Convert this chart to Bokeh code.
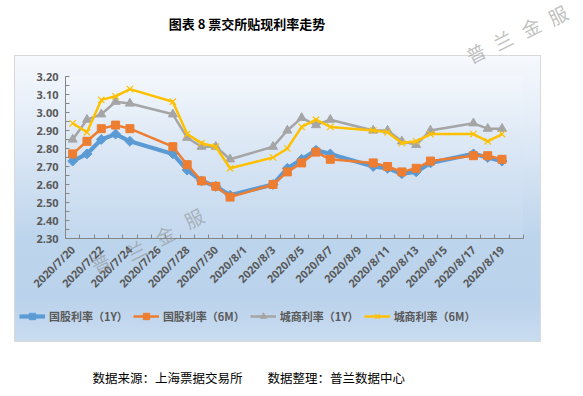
import pandas as pd
from math import pi
from bokeh.plotting import figure
from bokeh.models import (Range1d, FixedTicker, Label, Legend, LegendItem,
                          PrintfTickFormatter)
from bokeh.embed import file_html
from bokeh.resources import INLINE

# ---------------- data ----------------
dates = ["2020-07-20", "2020-07-21", "2020-07-22", "2020-07-23", "2020-07-24",
         "2020-07-27", "2020-07-28", "2020-07-29", "2020-07-30", "2020-07-31",
         "2020-08-03", "2020-08-04", "2020-08-05", "2020-08-06", "2020-08-07",
         "2020-08-10", "2020-08-11", "2020-08-12", "2020-08-13", "2020-08-14",
         "2020-08-17", "2020-08-18", "2020-08-19"]
gg_1y = [2.73, 2.77, 2.85, 2.88, 2.84, 2.77, 2.68, 2.62, 2.59, 2.54, 2.60, 2.69,
         2.74, 2.79, 2.77, 2.70, 2.69, 2.66, 2.67, 2.72, 2.77, 2.75, 2.73]
gg_6m = [2.77, 2.84, 2.91, 2.93, 2.91, 2.81, 2.71, 2.62, 2.59, 2.53, 2.60, 2.67,
         2.72, 2.78, 2.74, 2.72, 2.70, 2.67, 2.69, 2.73, 2.76, 2.76, 2.74]
cs_1y = [2.85, 2.96, 2.99, 3.06, 3.05, 2.99, 2.86, 2.81, 2.81, 2.74, 2.81, 2.90,
         2.97, 2.93, 2.96, 2.90, 2.90, 2.84, 2.82, 2.90, 2.94, 2.91, 2.91]
cs_6m = [2.94, 2.89, 3.07, 3.09, 3.13, 3.06, 2.88, 2.83, 2.81, 2.69, 2.75, 2.80,
         2.92, 2.96, 2.92, 2.90, 2.89, 2.83, 2.84, 2.88, 2.88, 2.84, 2.88]
series_names = ["国股利率（1Y）", "国股利率（6M）", "城商利率（1Y）", "城商利率（6M）"]
x_tick_labels = ["2020/7/20", "2020/7/22", "2020/7/24", "2020/7/26", "2020/7/28",
                 "2020/7/30", "2020/8/1", "2020/8/3", "2020/8/5", "2020/8/7",
                 "2020/8/9", "2020/8/11", "2020/8/13", "2020/8/15", "2020/8/17",
                 "2020/8/19"]
y_ticks = [2.30, 2.40, 2.50, 2.60, 2.70, 2.80, 2.90, 3.00, 3.10, 3.20]
title_text = "图表 8  票交所贴现利率走势"
source_text = "数据来源：上海票据交易所"
author_text = "数据整理：普兰数据中心"
watermark = ["普", "兰", "金", "服"]

# ---------------- derived ----------------
base = pd.Timestamp("2020-07-20")
xd = [(pd.Timestamp(d) - base).days for d in dates]
tick_pos = [(t - base).days for t in pd.to_datetime(x_tick_labels, format="%Y/%m/%d")]
n_days = (pd.Timestamp(dates[-1]) - base).days
x_lo, x_hi = -0.5, n_days + 1.5
y_lo, y_hi = y_ticks[0], y_ticks[-1]

W, H = 580, 394
CJK = "Noto Sans CJK SC"
LAT = "Open Sans"
GREY_TXT = "#595959"
AX = "#868686"

# plot-area and chart-area boxes (pixels in the canvas)
FL, FR, FT, FB = 65, 523, 76, 238
CL, CR, CT, CB = 14, 541, 55, 342

# the frame is the whole canvas; ranges chosen so the data area lands on FL..FR / FT..FB
kx = (x_hi - x_lo) / (FR - FL)
ky = (y_hi - y_lo) / (FB - FT)
x_range = Range1d(x_lo - FL * kx, x_hi + (W - FR) * kx)
y_range = Range1d(y_lo - (H - FB) * ky, y_hi + FT * ky)

bg_styles = {
    "background-color": "white",
    "background-image": (
        "linear-gradient(to bottom, #f3f7fc 0%, #d8e5f4 50%, #c3d8ee 100%),"
        "linear-gradient(to bottom, #f6f9fd 0%, #dbe7f5 33%, #bdd5ec 63%, #bad2eb 85%, #c9dcf0 100%),"
        "linear-gradient(#d9d9d9, #d9d9d9)"),
    "background-size": f"{FR-FL}px {FB-FT}px, {CR-CL-2}px {CB-CT-2}px, {CR-CL}px {CB-CT}px",
    "background-position": f"{FL}px {FT}px, {CL+1}px {CT+1}px, {CL}px {CT}px",
    "background-repeat": "no-repeat",
}

p = figure(width=W, height=H, output_backend="svg", toolbar_location=None,
           x_range=x_range, y_range=y_range,
           min_border_left=0, min_border_right=0, min_border_top=0,
           min_border_bottom=0, styles=bg_styles)
p.border_fill_color = None
p.background_fill_color = None
p.outline_line_color = None
p.grid.visible = False

# ---------------- series ----------------
specs = [
    (gg_1y, "#5b9bd5", 4.2, dict(marker="square", size=7, angle=pi / 4)),
    (gg_6m, "#ed7d31", 2.5, dict(marker="square", size=8)),
    (cs_1y, "#a5a5a5", 2.5, dict(marker="triangle", size=9)),
    (cs_6m, "#ffc000", 2.5, dict(marker="x", size=9)),
]
items = []
for vals, col, lw, mk in specs:
    lr = p.line(xd, vals, line_color=col, line_width=lw, line_join="round")
    if mk["marker"] == "x":
        sr = p.scatter(xd, vals, marker="x", size=mk["size"], line_color=col, line_width=1.2)
    else:
        sr = p.scatter(xd, vals, marker=mk["marker"], size=mk["size"], angle=mk.get("angle", 0),
                       fill_color=col, line_color=col)
    items.append((lr, sr))

# ---------------- axes (fixed inside the frame) ----------------
ya = p.yaxis[0]
ya.fixed_location = x_lo
ya.bounds = (y_lo, y_hi)
ya.ticker = FixedTicker(ticks=y_ticks,
                        minor_ticks=[round(v + 0.05, 2) for v in y_ticks[:-1]])
ya.formatter = PrintfTickFormatter(format="%.2f")
ya.axis_line_color = AX
ya.major_tick_line_color = AX
ya.minor_tick_line_color = AX
ya.major_tick_in, ya.major_tick_out = 4, 0
ya.minor_tick_in, ya.minor_tick_out = 4, 0
ya.major_label_standoff = 7
ya.major_label_text_font = LAT
ya.major_label_text_font_style = "bold"
ya.major_label_text_font_size = "11px"
ya.major_label_text_color = GREY_TXT

xa = p.xaxis[0]
xa.fixed_location = y_lo
xa.bounds = (x_lo, x_hi)
xa.ticker = FixedTicker(ticks=tick_pos, minor_ticks=[i - 0.5 for i in range(n_days + 3)])
xa.major_label_overrides = {tp: lab for tp, lab in zip(tick_pos, x_tick_labels)}
xa.axis_line_color = AX
xa.major_tick_line_color = None
xa.minor_tick_line_color = AX
xa.major_tick_in, xa.major_tick_out = 0, 0
xa.minor_tick_in, xa.minor_tick_out = 4, 0
xa.major_label_orientation = pi / 4
xa.major_label_standoff = 9
xa.major_label_text_font = LAT
xa.major_label_text_font_style = "bold"
xa.major_label_text_font_size = "11px"
xa.major_label_text_color = GREY_TXT

# ---------------- legend ----------------
legend = Legend(items=[LegendItem(label=n, renderers=[a, b]) for n, (a, b) in zip(series_names, items)],
                orientation="horizontal", location=(19, H - 324),
                glyph_width=26, glyph_height=16, label_standoff=4, spacing=5,
                padding=0, margin=0, background_fill_alpha=0, border_line_color=None,
                label_text_font=CJK, label_text_font_size="11px",
                label_text_font_style="bold", label_text_color=GREY_TXT)
p.add_layout(legend)

# ---------------- texts ----------------
def canvas_label(x, y, text, **kw):
    p.add_layout(Label(x=x, y=y, x_units="canvas", y_units="canvas", text=text, **kw))


canvas_label(248, 23, title_text, text_font=CJK, text_font_size="13px",
             text_font_style="bold", text_color="black", text_align="center",
             text_baseline="middle")
canvas_label(92, 377, source_text, text_font=CJK, text_font_size="12.5px",
             text_color="black", text_align="left", text_baseline="middle")
canvas_label(267, 377, author_text, text_font=CJK, text_font_size="12.5px",
             text_color="black", text_align="left", text_baseline="middle")
wm_pos = [[(475, 52), (502, 39), (530, 26), (557, 14)],
          [(100, 262), (135, 249), (164, 234), (193, 217)]]
for grp in wm_pos:
    for ch, (px, py) in zip(watermark, grp):
        canvas_label(px, py, ch, text_font=CJK, text_font_size="19px",
                     text_color="#8c8c8c", text_alpha=0.55, angle=0.47,
                     text_align="center", text_baseline="middle")

open("out.html", "w").write(file_html(p, INLINE))
